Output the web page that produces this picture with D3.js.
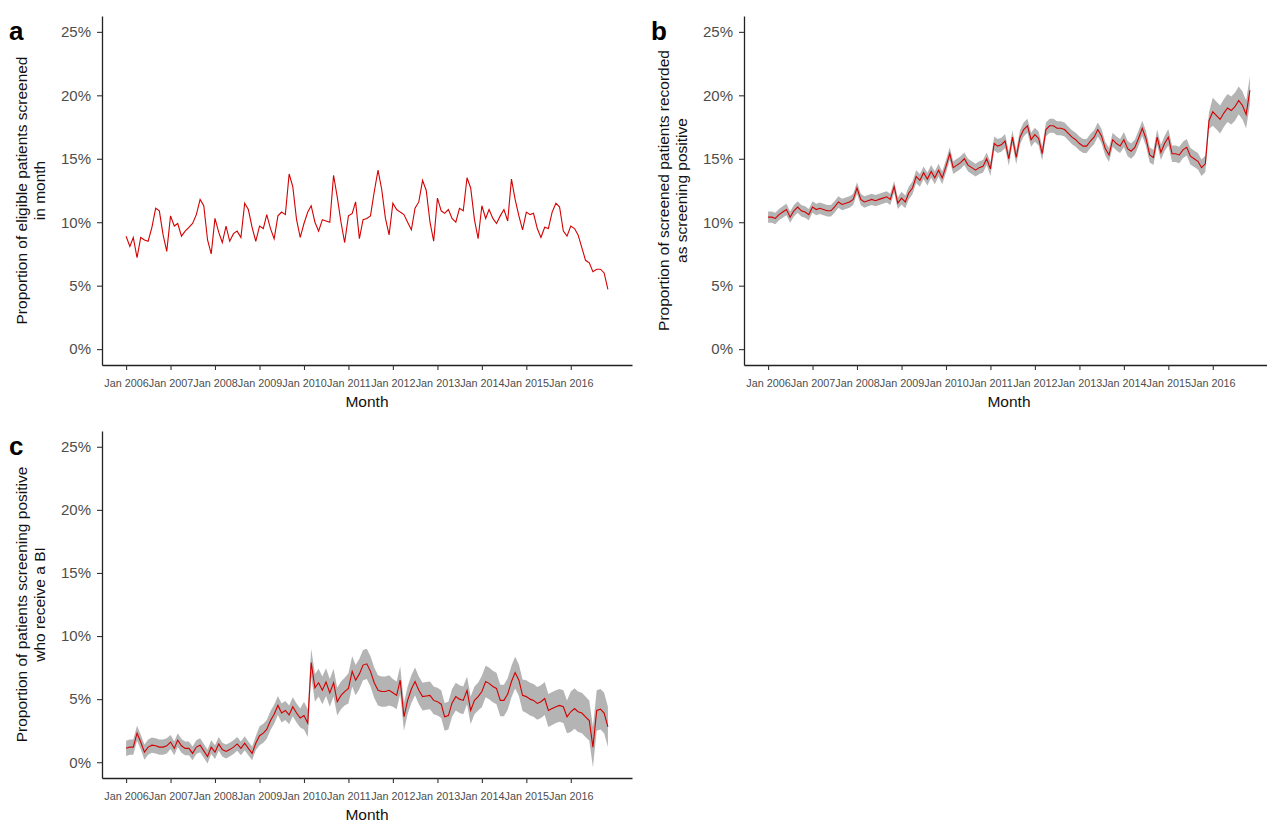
<!DOCTYPE html>
<html>
<head>
<meta charset="utf-8">
<script src="https://cdn.jsdelivr.net/npm/d3@7"></script>
<style>
  body { margin: 0; background: #fff; }
  svg { display: block; font-family: Arial, "Liberation Sans", sans-serif; }
  .axis .domain { stroke: #222; stroke-width: 1.3px; }
  .axis .tick line { stroke: #333; stroke-width: 1.1px; }
  .y-axis .tick text { fill: #4d4d4d; font-size: 15px; }
  .x-axis .tick text { fill: #4d4d4d; font-size: 10.8px; }
  .axis-title { fill: #111; font-size: 15.5px; }
  .panel-tag { fill: #000; font-size: 26px; font-weight: bold; }
  .line { fill: none; stroke: #d40000; stroke-width: 1.1px; }
  .ribbon { fill: #b4b4b4; }
</style>
</head>
<body>
<div id="figure"></div>
<script>
// Months covered: Jan 2006 .. Nov 2016 (one value per month).
var firstMonth = [2006, 0];
var lastMonth = [2016, 10];

// Tick labels.
var tickYears = [2006, 2007, 2008, 2009, 2010, 2011, 2012, 2013, 2014, 2015, 2016];
var yTicks = [0, 5, 10, 15, 20, 25];

// a: proportion of eligible patients screened in month (%).
var screenedPct = [
  8.9, 8.1, 8.8, 7.2, 8.8, 8.6, 8.5, 9.6, 11.1, 10.9,
  9.0, 7.7, 10.5, 9.7, 9.9, 8.9, 9.3, 9.6, 9.9, 10.6,
  11.8, 11.3, 8.6, 7.5, 10.3, 9.2, 8.4, 9.7, 8.5, 9.1,
  9.3, 8.8, 11.5, 11.0, 9.6, 8.5, 9.7, 9.5, 10.6, 9.5,
  8.7, 10.5, 10.8, 10.6, 13.8, 12.8, 10.2, 8.8, 9.9, 10.8,
  11.3, 10.0, 9.3, 10.2, 10.1, 10.0, 13.7, 12.0, 10.0, 8.4,
  10.5, 10.7, 11.6, 8.7, 10.2, 10.3, 10.5, 12.4, 14.1, 12.6,
  10.3, 9.0, 11.5, 11.0, 10.8, 10.6, 10.0, 9.4, 11.1, 11.6,
  13.3, 12.5, 10.0, 8.5, 11.9, 10.9, 10.7, 11.0, 10.3, 10.0,
  11.1, 10.9, 13.5, 12.7, 10.2, 8.7, 11.3, 10.3, 11.0, 10.3,
  9.9, 10.5, 11.0, 10.1, 13.4, 11.8, 10.5, 9.4, 10.8, 10.6,
  10.7, 9.5, 8.8, 9.6, 9.5, 10.8, 11.5, 11.2, 9.3, 8.9,
  9.7, 9.5, 9.0, 8.0, 7.0, 6.8, 6.1, 6.3, 6.3, 6.0,
  4.7
];

// b: proportion of screened patients recorded as screening positive (%).
var positivePct = [
  10.4, 10.4, 10.3, 10.6, 10.8, 11.0, 10.4, 10.9, 11.2, 10.9,
  10.8, 10.6, 11.2, 11.0, 11.1, 11.0, 10.9, 10.9, 11.2, 11.6,
  11.4, 11.5, 11.6, 11.8, 12.7, 11.8, 11.6, 11.7, 11.8, 11.7,
  11.8, 11.9, 12.0, 11.8, 12.8, 11.5, 11.9, 11.6, 12.3, 12.7,
  13.6, 13.3, 13.9, 13.4, 14.0, 13.5, 14.1, 13.5, 14.4, 15.4,
  14.3, 14.5, 14.7, 15.0, 14.5, 14.3, 14.1, 14.3, 14.4, 15.0,
  14.2, 16.2, 16.0, 16.1, 16.4, 15.0, 16.7, 15.1, 16.7, 17.3,
  17.6, 16.5, 16.9, 16.6, 15.4, 17.3, 17.6, 17.6, 17.4, 17.4,
  17.3, 17.0, 16.7, 16.5, 16.2, 16.0, 16.0, 16.4, 16.7, 17.3,
  16.8, 15.8, 15.3, 16.5, 16.2, 16.0, 16.5, 15.8, 15.6, 15.9,
  16.6, 17.4, 16.6, 15.3, 15.1, 16.7, 15.5, 16.2, 16.7, 15.4,
  15.4, 15.3, 15.7, 15.9, 15.2, 15.0, 14.8, 14.3, 14.6, 18.0,
  18.7, 18.4, 18.1, 18.6, 19.0, 18.8, 19.1, 19.6, 19.2, 18.5,
  20.4
];
// Half width of the confidence band, one value per year (2006..2016).
var positiveCI = [0.45, 0.45, 0.45, 0.5, 0.5, 0.55, 0.55, 0.55, 0.6, 0.65, 1.1];

// c: proportion of patients screening positive who receive a BI (%).
var briefPct = [
  1.1, 1.2, 1.2, 2.3, 1.6, 0.8, 1.2, 1.35, 1.3, 1.2,
  1.2, 1.3, 1.6, 1.1, 1.75, 1.3, 1.1, 1.1, 0.7, 1.2,
  1.35, 0.9, 0.45, 1.2, 0.8, 1.45, 1.0, 0.85, 1.0, 1.2,
  1.45, 1.1, 1.5, 1.1, 0.7, 1.5, 2.1, 2.3, 2.6, 3.3,
  3.8, 4.5, 3.9, 4.1, 3.75, 4.4, 3.9, 3.5, 3.7, 3.1,
  7.9, 5.9, 6.3, 5.7, 6.35, 5.5, 6.3, 4.8, 5.3, 5.6,
  5.85, 7.2, 6.5, 7.0, 7.7, 7.8, 7.2, 6.3, 5.7, 5.6,
  5.6, 5.7, 5.5, 5.3, 6.5, 3.6, 4.9, 5.8, 6.4, 5.7,
  5.2, 5.25, 5.3, 4.9, 4.8, 4.6, 3.6, 3.7, 4.7, 5.2,
  5.0, 4.9, 5.7, 4.1, 4.9, 5.2, 5.6, 6.4, 6.25, 6.0,
  5.85, 4.9, 4.9, 5.4, 6.4, 7.1, 6.5, 5.3, 5.2, 5.0,
  4.9, 4.66, 4.8, 5.05, 4.1, 4.26, 4.4, 4.5, 4.4, 3.6,
  4.0, 4.26, 4.0, 3.9, 3.6, 3.3, 1.2, 4.1, 4.2, 3.9,
  2.8
];
var briefCI = [0.6, 0.55, 0.55, 0.75, 1.1, 1.2, 1.1, 1.1, 1.25, 1.3, 1.6];

(function (d3, window) {
    'use strict';

    var svgWidth = 1267;
    var svgHeight = 825;

    var months = d3.timeMonth.range(
        new Date(firstMonth[0], firstMonth[1], 1),
        new Date(lastMonth[0], lastMonth[1] + 1, 1)
    );

    var svg = d3.select('#figure').append('svg')
        .attr('width', svgWidth)
        .attr('height', svgHeight);

    // One panel: left/right/top/bottom of the plotting area.
    var panels = [
        {
            tag: 'a', values: screenedPct, ci: null,
            left: 102, right: 632, top: 16, bottom: 365,
            title: ['Proportion of eligible patients screened', 'in month']
        },
        {
            tag: 'b', values: positivePct, ci: positiveCI,
            left: 744, right: 1274, top: 16, bottom: 365,
            title: ['Proportion of screened patients recorded', 'as screening positive']
        },
        {
            tag: 'c', values: briefPct, ci: briefCI,
            left: 102, right: 632, top: 431, bottom: 778,
            title: ['Proportion of patients screening positive', 'who receive a BI']
        }
    ];

    panels.forEach(drawPanel);

    function drawPanel(p) {
        var rows = p.values.map(function (v, i) {
            var hw = p.ci ? p.ci[months[i].getFullYear() - tickYears[0]] : 0;
            return {date: months[i], value: v, lo: v - hw, hi: v + hw};
        });

        // Time scale with ggplot's 5% expansion on both sides.
        var t0 = months[0].getTime();
        var t1 = months[months.length - 1].getTime();
        var pad = (t1 - t0) * 0.05;
        var x = d3.scaleTime()
            .domain([new Date(t0 - pad), new Date(t1 + pad)])
            .range([p.left, p.right]);

        var y = d3.scaleLinear()
            .domain([-1.25, 26.25])
            .range([p.bottom, p.top]);

        var g = svg.append('g').attr('class', 'panel panel-' + p.tag);

        if (p.ci) {
            var ribbon = d3.area()
                .x(function (d) { return x(d.date); })
                .y0(function (d) { return y(d.lo); })
                .y1(function (d) { return y(d.hi); });

            g.append('path')
                .datum(rows)
                .attr('class', 'ribbon')
                .attr('d', ribbon);
        }

        var valueLine = d3.line()
            .x(function (d) { return x(d.date); })
            .y(function (d) { return y(d.value); });

        g.append('path')
            .datum(rows)
            .attr('class', 'line')
            .attr('d', valueLine);

        // Axes (classic theme: left and bottom only).
        g.append('g')
            .attr('class', 'axis y-axis')
            .attr('transform', 'translate(' + p.left + ',0)')
            .call(d3.axisLeft(y)
                .tickValues(yTicks)
                .tickSize(5)
                .tickSizeOuter(0)
                .tickPadding(6)
                .tickFormat(function (d) { return d + '%'; }));

        g.append('g')
            .attr('class', 'axis x-axis')
            .attr('transform', 'translate(0,' + p.bottom + ')')
            .call(d3.axisBottom(x)
                .tickValues(tickYears.map(function (yr) { return new Date(yr, 0, 1); }))
                .tickSize(5)
                .tickSizeOuter(0)
                .tickPadding(9)
                .tickFormat(d3.timeFormat('Jan %Y')));

        g.selectAll('.axis text').attr('font-family', null).attr('font-size', null);
        g.selectAll('.axis').attr('font-family', null).attr('font-size', null);

        // Axis titles.
        g.append('text')
            .attr('class', 'axis-title')
            .attr('x', (p.left + p.right) / 2)
            .attr('y', p.bottom + 42)
            .attr('text-anchor', 'middle')
            .text('Month');

        var cy = (p.top + p.bottom) / 2;
        p.title.forEach(function (line, i) {
            var bx = p.left - 75 + i * 18;
            g.append('text')
                .attr('class', 'axis-title')
                .attr('transform', 'translate(' + bx + ',' + cy + ') rotate(-90)')
                .attr('text-anchor', 'middle')
                .text(line);
        });

        g.append('text')
            .attr('class', 'panel-tag')
            .attr('x', p.left - 93)
            .attr('y', p.top + 24)
            .text(p.tag);
    }

})(d3, window);
</script>
</body>
</html>
